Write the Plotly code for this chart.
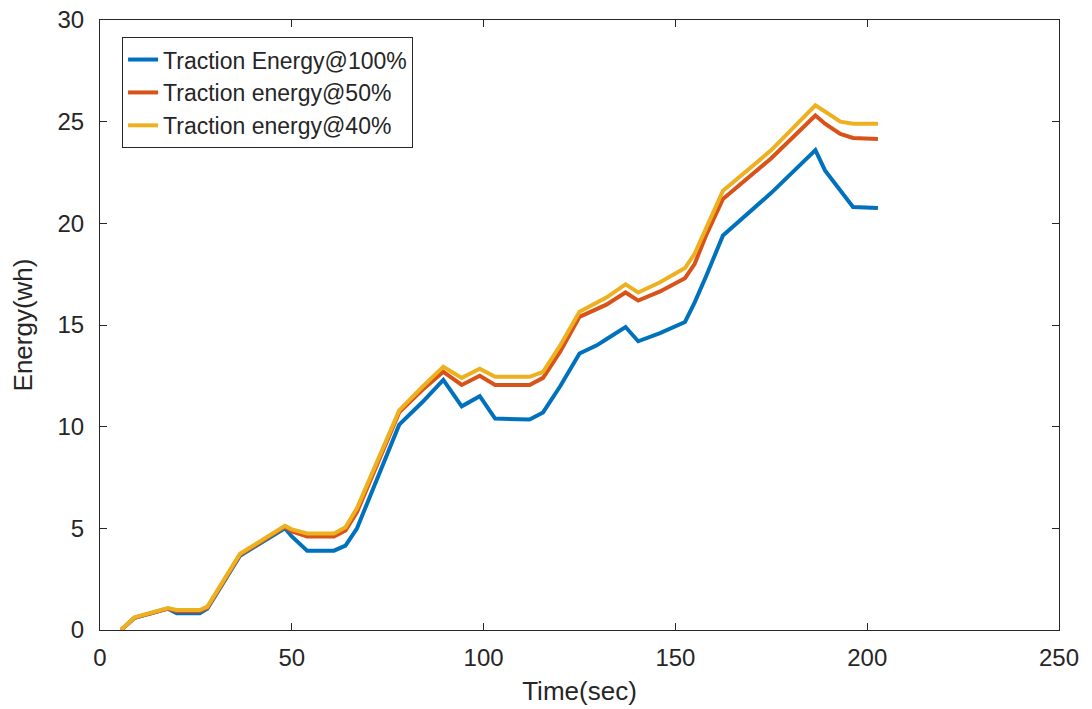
import plotly.graph_objects as go

time_s = [5.5, 9, 17.7, 20, 26, 28, 36.5, 43.5, 48.2, 50, 54, 61, 64, 67, 78, 84, 89.5,
          94.3, 99, 103, 112, 115.5, 120, 125, 129.5, 132, 137, 140.3, 146, 152.5, 155,
          158, 162.4, 175, 186.5, 189, 193, 196.3, 202.8]

energy_100 = [0, 0.6, 1.05, 0.82, 0.82, 1.05, 3.65, 4.45, 5.0, 4.6, 3.9, 3.9, 4.15, 5.0,
              10.1, 11.2, 12.3, 11.0, 11.5, 10.4, 10.35, 10.7, 12.0, 13.6, 14.0, 14.3, 14.9,
              14.2, 14.6, 15.15, 16.1, 17.4, 19.4, 21.5, 23.6, 22.6, 21.6, 20.8, 20.75]

energy_50 = [0, 0.6, 1.05, 0.92, 0.92, 1.1, 3.7, 4.5, 5.07, 4.85, 4.6, 4.6, 4.9, 5.8,
             10.7, 11.8, 12.7, 12.05, 12.5, 12.05, 12.05, 12.4, 13.7, 15.4, 15.8, 16.0, 16.6,
             16.2, 16.65, 17.3, 18.0, 19.4, 21.2, 23.2, 25.3, 24.9, 24.4, 24.2, 24.15]

energy_40 = [0, 0.62, 1.08, 0.98, 0.98, 1.15, 3.75, 4.55, 5.12, 4.95, 4.75, 4.75, 5.05, 6.0,
             10.8, 11.95, 12.95, 12.4, 12.85, 12.45, 12.45, 12.7, 14.0, 15.65, 16.1, 16.35, 17.0,
             16.6, 17.1, 17.8, 18.5, 19.8, 21.6, 23.6, 25.8, 25.5, 25.0, 24.9, 24.9]

names = ["Traction Energy@100%", "Traction energy@50%", "Traction energy@40%"]
colors = ["#0072BD", "#D95319", "#EDB120"]
x_ticks = [0, 50, 100, 150, 200, 250]
y_ticks = [0, 5, 10, 15, 20, 25, 30]

FONT = "Liberation Sans, Arial, sans-serif"
TXT = "#262626"

fig = go.Figure()
for name, vals, col in zip(names, [energy_100, energy_50, energy_40], colors):
    fig.add_trace(go.Scatter(x=time_s, y=vals, mode="lines", name=name,
                             line=dict(color=col, width=4)))

axis_common = dict(showgrid=False, zeroline=False, showline=True, linecolor=TXT,
                   linewidth=1, mirror="ticks", ticks="inside", ticklen=7,
                   tickcolor=TXT, tickwidth=1, automargin=False,
                   tickfont=dict(family=FONT, size=24, color=TXT))

fig.update_layout(
    width=1092, height=709,
    margin=dict(l=100, r=33, t=20, b=79, autoexpand=False),
    paper_bgcolor="white", plot_bgcolor="white",
    font=dict(family=FONT, color=TXT),
    xaxis=dict(range=[0, 250], tickvals=x_ticks, ticklabelstandoff=6,
               title=dict(text="Time(sec)", font=dict(family=FONT, size=26, color=TXT), standoff=12),
               **axis_common),
    yaxis=dict(range=[0, 30], tickvals=y_ticks, ticklabelstandoff=10,
               title=dict(text="Energy(wh)", font=dict(family=FONT, size=26, color=TXT), standoff=17),
               **axis_common),
    legend=dict(x=0.023, y=0.972, xanchor="left", yanchor="top",
                bgcolor="white", bordercolor=TXT, borderwidth=1,
                font=dict(family=FONT, size=23, color=TXT),
                tracegroupgap=0),
    showlegend=True,
)

fig.write_html("out.html")
